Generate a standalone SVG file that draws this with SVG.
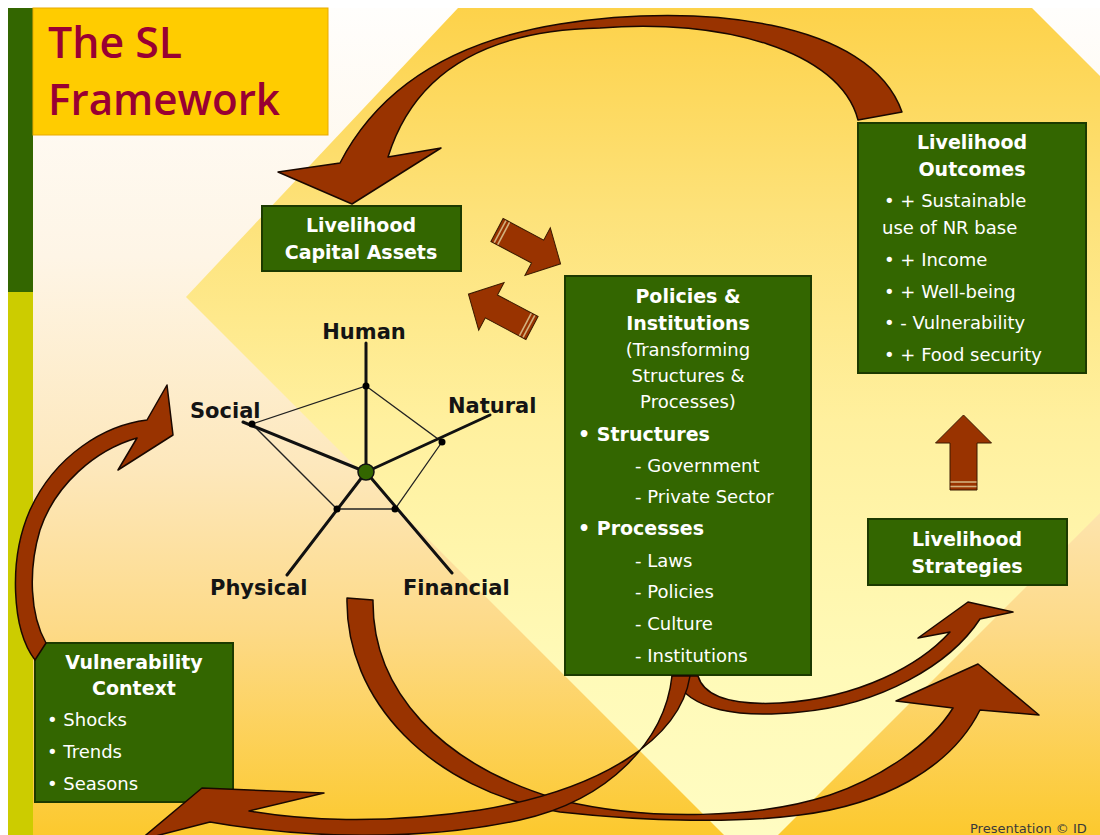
<svg xmlns="http://www.w3.org/2000/svg" width="1100" height="835" viewBox="0 0 1100 835">
  <defs>
    <linearGradient id="bgOuter" x1="0" y1="8" x2="0" y2="835" gradientUnits="userSpaceOnUse">
      <stop offset="0" stop-color="#fffefc"/>
      <stop offset="0.3" stop-color="#fef5e6"/>
      <stop offset="0.55" stop-color="#fde8bd"/>
      <stop offset="0.75" stop-color="#fdda88"/>
      <stop offset="1" stop-color="#fcc92e"/>
    </linearGradient>
    <linearGradient id="bgInner" x1="0" y1="8" x2="0" y2="835" gradientUnits="userSpaceOnUse">
      <stop offset="0" stop-color="#fdd24a"/>
      <stop offset="0.25" stop-color="#fde27a"/>
      <stop offset="0.5" stop-color="#fff09e"/>
      <stop offset="0.8" stop-color="#fffab8"/>
      <stop offset="1" stop-color="#fffcc2"/>
    </linearGradient>
    <style>
      .box { fill: #336600; stroke: #1c3a00; stroke-width: 2; }
      .hd { font-family: "DejaVu Sans", Verdana, sans-serif; font-weight: bold; font-size: 19px; fill: #ffffff; text-anchor: middle; }
      .hb { font-family: "DejaVu Sans", Verdana, sans-serif; font-weight: bold; font-size: 19px; fill: #ffffff; }
      .tx { font-family: "DejaVu Sans", Verdana, sans-serif; font-size: 18px; fill: #ffffff; }
      .txc { font-family: "DejaVu Sans", Verdana, sans-serif; font-size: 18px; fill: #ffffff; text-anchor: middle; }
      .lbl { font-family: "DejaVu Sans", Verdana, sans-serif; font-weight: bold; font-size: 21px; fill: #141414; }
      .arw { fill: #993300; stroke: #1a0800; stroke-width: 1.5; stroke-linejoin: round; }
      .blk { fill: #993300; stroke: #3a1a00; stroke-width: 1; }
      .stripe { stroke: #d2b07c; stroke-width: 1.6; }
      .axis { stroke: #111111; stroke-width: 3; stroke-linecap: round; }
      .edge { stroke: #222222; stroke-width: 1.3; fill: none; }
      .dot { fill: #000000; }
    </style>
  </defs>

  <!-- backdrop -->
  <rect x="0" y="0" width="1100" height="835" fill="#ffffff"/>
  <rect x="8" y="8" width="1092" height="827" fill="url(#bgOuter)"/>
  <polygon points="458,8 1032,8 1100,76 1100,513 751,862 186,297" fill="url(#bgInner)"/>
  <rect x="8" y="8" width="25" height="284" fill="#336600"/>
  <rect x="8" y="292" width="25" height="543" fill="#cccc00"/>

  <!-- title -->
  <g id="title">
    <rect x="33" y="8" width="295" height="127" fill="#ffcc00" stroke="#e8aa00" stroke-width="1"/>
    <text x="48" y="58" font-family="'Open Sans', 'Noto Sans', sans-serif" font-weight="600" font-size="44" fill="#990033" textLength="134" lengthAdjust="spacingAndGlyphs">The SL</text>
    <text x="48" y="115" font-family="'Open Sans', 'Noto Sans', sans-serif" font-weight="600" font-size="44" fill="#990033" textLength="232" lengthAdjust="spacingAndGlyphs">Framework</text>
  </g>

  <!-- asset pentagon -->
  <g id="asset-pentagon">
    <polygon class="edge" points="366,386 442,442 395,509 337,509 252,424"/>
    <line class="axis" x1="366" y1="472" x2="366" y2="343"/>
    <line class="axis" x1="366" y1="472" x2="243" y2="422"/>
    <line class="axis" x1="366" y1="472" x2="490" y2="415"/>
    <line class="axis" x1="366" y1="472" x2="287" y2="575"/>
    <line class="axis" x1="366" y1="472" x2="452" y2="573"/>
    <circle class="dot" cx="366" cy="386" r="3.5"/>
    <circle class="dot" cx="252" cy="424" r="3.5"/>
    <circle class="dot" cx="442" cy="442" r="3.5"/>
    <circle class="dot" cx="337" cy="509" r="3.5"/>
    <circle class="dot" cx="395" cy="509" r="3.5"/>
    <circle cx="366" cy="472" r="8" fill="#336600" stroke="#111" stroke-width="1.5"/>
    <text class="lbl" x="364" y="339" text-anchor="middle">Human</text>
    <text class="lbl" x="190" y="418">Social</text>
    <text class="lbl" x="448" y="413">Natural</text>
    <text class="lbl" x="210" y="595">Physical</text>
    <text class="lbl" x="403" y="595">Financial</text>
  </g>

  <!-- boxes -->
  <g id="capital-assets">
    <rect class="box" x="262" y="206" width="199" height="65"/>
    <text class="hd" x="361" y="232">Livelihood</text>
    <text class="hd" x="361" y="259">Capital Assets</text>
  </g>

  <g id="policies-institutions">
    <rect class="box" x="565" y="276" width="246" height="399"/>
    <text class="hd" x="688" y="303">Policies &amp;</text>
    <text class="hd" x="688" y="330">Institutions</text>
    <text class="txc" x="688" y="356">(Transforming</text>
    <text class="txc" x="688" y="382">Structures &amp;</text>
    <text class="txc" x="688" y="408">Processes)</text>
    <text class="hb" x="578" y="441">• Structures</text>
    <text class="tx" x="635" y="472">- Government</text>
    <text class="tx" x="635" y="503">- Private Sector</text>
    <text class="hb" x="578" y="535">• Processes</text>
    <text class="tx" x="635" y="567">- Laws</text>
    <text class="tx" x="635" y="598">- Policies</text>
    <text class="tx" x="635" y="630">- Culture</text>
    <text class="tx" x="635" y="662">- Institutions</text>
  </g>

  <g id="livelihood-outcomes">
    <rect class="box" x="858" y="123" width="228" height="250"/>
    <text class="hd" x="972" y="149">Livelihood</text>
    <text class="hd" x="972" y="176">Outcomes</text>
    <text class="tx" x="884" y="207">• + Sustainable</text>
    <text class="tx" x="882" y="234">use of NR base</text>
    <text class="tx" x="884" y="266">• + Income</text>
    <text class="tx" x="884" y="298">• + Well-being</text>
    <text class="tx" x="884" y="329">• - Vulnerability</text>
    <text class="tx" x="884" y="361">• + Food security</text>
  </g>

  <g id="livelihood-strategies">
    <rect class="box" x="868" y="519" width="199" height="66"/>
    <text class="hd" x="967" y="546">Livelihood</text>
    <text class="hd" x="967" y="573">Strategies</text>
  </g>

  <g id="vulnerability-context">
    <rect class="box" x="35" y="643" width="198" height="159"/>
    <text class="hd" x="134" y="669">Vulnerability</text>
    <text class="hd" x="134" y="695">Context</text>
    <text class="tx" x="47" y="726">• Shocks</text>
    <text class="tx" x="47" y="758">• Trends</text>
    <text class="tx" x="47" y="790">• Seasons</text>
  </g>

  <!-- connectors -->
  <g id="connectors">
    <!-- outcomes back to capital assets -->
    <path class="arw" d="M278,172 L340,163 C370,105 430,45 560,24 C700,2 870,20 902,112 L858,120 C840,50 720,18 600,28 C490,30 415,70 388,157 L441,148 L352,204 Z"/>
    <!-- vulnerability to assets -->
    <path class="arw" d="M35,660 C12,630 8,560 30,510 C55,455 105,425 147,420 L167,385 L173,435 L118,470 L137,438 C95,450 55,485 40,530 C28,570 30,615 46,643 Z"/>
    <!-- assets to strategies -->
    <path class="arw" d="M347,598 L373,600 C372,690 440,765 560,800 C650,822 760,818 830,795 C880,778 930,745 953,708 L896,701 L978,664 L1039,715 L980,710 C950,770 880,805 800,815 C740,823 650,822 560,812 C430,790 345,700 347,598 Z"/>
    <!-- policies to strategies -->
    <path class="arw" d="M672,676 L698,676 C705,700 740,705 780,703 C860,698 920,665 950,632 L918,638 L968,602 L1013,612 L980,619 C950,665 880,705 800,712 C740,718 690,712 672,676 Z"/>
    <!-- policies to vulnerability -->
    <path class="arw" d="M690,676 C680,740 600,790 480,810 C380,825 300,820 249,811 L324,793 L202,788 L140,840 L210,822 C300,838 420,842 520,820 C610,800 665,740 672,676 Z"/>

    <!-- block arrows between assets and policies -->
    <g transform="translate(497,230) rotate(28)">
      <path class="blk" d="M0,-13 L46,-13 L46,-27 L72,0 L46,27 L46,13 L0,13 Z"/>
      <line class="stripe" x1="3.5" y1="-12.5" x2="3.5" y2="12.5"/>
      <line class="stripe" x1="7.5" y1="-12.5" x2="7.5" y2="12.5"/>
    </g>
    <g transform="translate(532,328) rotate(208)">
      <path class="blk" d="M0,-13 L46,-13 L46,-27 L72,0 L46,27 L46,13 L0,13 Z"/>
      <line class="stripe" x1="3.5" y1="-12.5" x2="3.5" y2="12.5"/>
      <line class="stripe" x1="7.5" y1="-12.5" x2="7.5" y2="12.5"/>
    </g>
    <!-- strategies up to outcomes -->
    <g transform="translate(963.5,490) rotate(-90)">
      <path class="blk" d="M0,-13.5 L47,-13.5 L47,-28 L75,0 L47,28 L47,13.5 L0,13.5 Z"/>
      <line class="stripe" x1="3.5" y1="-13" x2="3.5" y2="13"/>
      <line class="stripe" x1="8" y1="-13" x2="8" y2="13"/>
    </g>
  </g>

  <text x="970" y="833" font-family="'DejaVu Sans', Verdana, sans-serif" font-size="13" fill="#3a3a3a">Presentation © ID</text>
</svg>
